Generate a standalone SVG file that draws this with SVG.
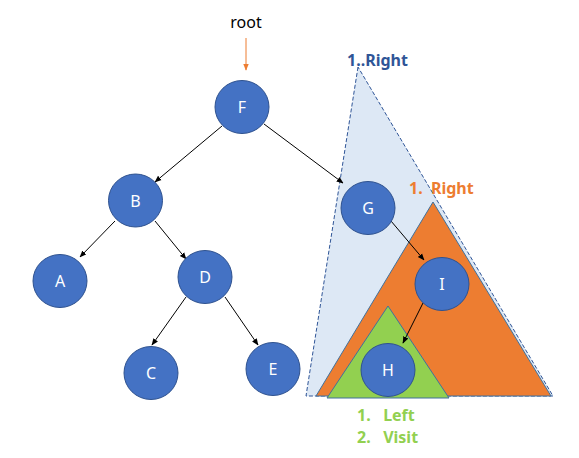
<svg xmlns="http://www.w3.org/2000/svg" width="579" height="458" viewBox="0 0 579 458">
<defs>
<marker id="ah" viewBox="0 0 10 10" refX="9" refY="5" markerWidth="7" markerHeight="7" orient="auto-start-reverse" markerUnits="userSpaceOnUse"><path d="M0,1 L10,5 L0,9 z" fill="#000"/></marker>
<marker id="aho" viewBox="0 0 10 10" refX="9" refY="5" markerWidth="7" markerHeight="7" orient="auto" markerUnits="userSpaceOnUse"><path d="M0,1 L10,5 L0,9 z" fill="#ed7d31"/></marker>
<style>
.n{fill:#4472c4;stroke:#2f528f;stroke-width:1}
.t{font-family:"Noto Sans","Open Sans","DejaVu Sans",sans-serif;font-size:16px;fill:#fff;text-anchor:middle;dominant-baseline:central}
.e{stroke:#000;stroke-width:1;fill:none;marker-end:url(#ah)}
.lbl{font-family:"Noto Sans","Open Sans","DejaVu Sans",sans-serif;font-size:16px;font-weight:bold}
</style>
</defs>
<rect width="579" height="458" fill="#fff"/>
<g id="tri-blue"><polygon points="358,67 306,396 553,396" fill="#dde8f5" stroke="#2f5597" stroke-width="1" stroke-dasharray="4,2"/></g>
<g id="tri-orange"><polygon points="433,202 316,396 551,396" fill="#ed7d31" stroke="#41719c" stroke-width="1"/></g>
<g id="tri-green"><polygon points="388,306 327,398 449,398" fill="#92d050" stroke="#41719c" stroke-width="1"/></g>
<text x="246" y="28" font-family="'Noto Sans','Open Sans',sans-serif" font-size="16" text-anchor="middle" fill="#000">root</text>
<text class="lbl" x="347" y="66" fill="#2f5597">1..Right</text>
<text class="lbl" x="409" y="194" fill="#ed7d31" xml:space="preserve">1.  Right</text>
<text class="lbl" x="357" y="421" fill="#92d050" xml:space="preserve">1.   Left</text>
<text class="lbl" x="357" y="443" fill="#92d050" xml:space="preserve">2.   Visit</text>
<g id="connectors">
<line x1="246" y1="38" x2="246" y2="70" stroke="#ed7d31" stroke-width="1" marker-end="url(#aho)"/>
<line class="e" x1="222" y1="126" x2="155" y2="182"/>
<line class="e" x1="264" y1="124" x2="343" y2="183"/>
<line class="e" x1="115" y1="221" x2="80" y2="257"/>
<line class="e" x1="155" y1="221" x2="186" y2="259"/>
<line class="e" x1="186" y1="297" x2="152" y2="345"/>
<line class="e" x1="225" y1="297" x2="258" y2="345"/>
<line class="e" x1="391" y1="221" x2="424" y2="260"/>
<line class="e" x1="423" y1="303" x2="403" y2="343"/>
</g>
<g id="F"><ellipse class="n" cx="242" cy="107" rx="27" ry="26.5"/><text class="t" x="242" y="107">F</text></g>
<g id="B"><ellipse class="n" cx="135.5" cy="200.5" rx="27" ry="26.5"/><text class="t" x="135.5" y="200.5">B</text></g>
<g id="A"><ellipse class="n" cx="60" cy="281" rx="27" ry="26.5"/><text class="t" x="60" y="281">A</text></g>
<g id="D"><ellipse class="n" cx="205" cy="277" rx="27" ry="26.5"/><text class="t" x="205" y="277">D</text></g>
<g id="C"><ellipse class="n" cx="151" cy="373" rx="27" ry="26.5"/><text class="t" x="151" y="373">C</text></g>
<g id="E"><ellipse class="n" cx="273" cy="369" rx="27" ry="26.5"/><text class="t" x="273" y="369">E</text></g>
<g id="G"><ellipse class="n" cx="368" cy="208" rx="27" ry="26.5"/><text class="t" x="368" y="208">G</text></g>
<g id="I"><ellipse class="n" cx="442" cy="284" rx="27" ry="26.5"/><text class="t" x="442" y="284">I</text></g>
<g id="H"><ellipse class="n" cx="388" cy="370" rx="27" ry="26.5"/><text class="t" x="388" y="370">H</text></g>
</svg>
